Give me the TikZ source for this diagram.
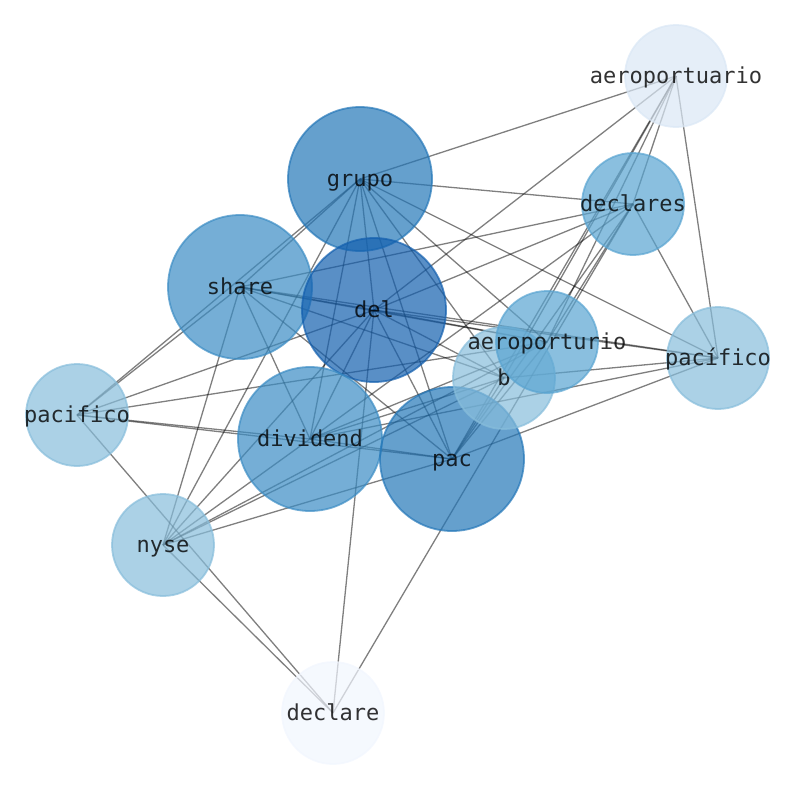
\documentclass[tikz,border=0pt]{standalone}
\usepackage{fontspec}
\newfontfamily\wordfont{DejaVu Sans Mono}
\pgfdeclarelayer{background}
\pgfsetlayers{background,main}
\definecolor{blueA}{HTML}{135FAE}
\definecolor{blueB}{HTML}{2477B8}
\definecolor{blueC}{HTML}{3B8CC4}
\definecolor{blueD}{HTML}{59A4D1}
\definecolor{blueE}{HTML}{87BDDB}
\definecolor{blueF}{HTML}{DAE7F5}
\definecolor{blueG}{HTML}{F1F6FE}
\newcommand{\word}[1]{\makebox[0pt]{#1}}

\begin{document}
\begin{tikzpicture}[x=1pt,y=-1pt,
    every node/.style={circle,inner sep=0pt,line width=1.8pt,fill opacity=0.7,draw opacity=0.7,
      text opacity=0.8,text=black,text height=16pt,text depth=1pt,
      font=\wordfont\fontsize{22pt}{26pt}\selectfont},
    big/.style={minimum size=144pt},
    small/.style={minimum size=102pt},
    link/.style={draw=black,draw opacity=0.5,line width=1.3pt}]
    \useasboundingbox (0,0) rectangle (794,790);

    \node[small,fill=blueF,draw=blueF] (aeroportuario) at (676,76) {\word{aeroportuario}};
    \node[big,fill=blueB,draw=blueB] (grupo) at (360,179) {\word{grupo}};
    \node[small,fill=blueD,draw=blueD] (declares) at (633,204) {\word{declares}};
    \node[big,fill=blueC,draw=blueC] (share) at (240,287) {\word{share}};
    \node[big,fill=blueA,draw=blueA] (del) at (374,310) {\word{del}};
    \node[small,fill=blueE,draw=blueE] (pacifico2) at (718,358) {\word{pacífico}};
    \node[big,fill=blueC,draw=blueC] (dividend) at (310,439) {\word{dividend}};
    \node[big,fill=blueB,draw=blueB] (pac) at (452,459) {\word{pac}};
    \node[small,fill=blueE,draw=blueE] (b) at (504,378) {\word{b}};
    \node[small,fill=blueD,draw=blueD] (aeroporturio) at (547,342) {\word{aeroporturio}};
    \node[small,fill=blueE,draw=blueE] (pacifico) at (77,415) {\word{pacifico}};
    \node[small,fill=blueE,draw=blueE] (nyse) at (163,545) {\word{nyse}};
    \node[small,fill=blueG,draw=blueG] (declare) at (333,713) {\word{declare}};

    \begin{pgfonlayer}{background}
    \path (aeroportuario.center) edge[link] (grupo.center);
    \path (aeroportuario.center) edge[link] (del.center);
    \path (aeroportuario.center) edge[link] (declares.center);
    \path (aeroportuario.center) edge[link] (pacifico2.center);
    \path (aeroportuario.center) edge[link] (pac.center);
    \path (aeroportuario.center) edge[link] (b.center);
    \path (aeroportuario.center) edge[link] (aeroporturio.center);

    \path (declares.center) edge[link] (grupo.center);
    \path (declares.center) edge[link] (share.center);
    \path (declares.center) edge[link] (del.center);
    \path (declares.center) edge[link] (dividend.center);
    \path (declares.center) edge[link] (pac.center);
    \path (declares.center) edge[link] (pacifico2.center);
    \path (declares.center) edge[link] (declare.center);
    \path (declares.center) edge[link] (aeroporturio.center);

    \path (grupo.center) edge[link] (pacifico2.center);
    \path (grupo.center) edge[link] (aeroporturio.center);
    \path (grupo.center) edge[link] (b.center);
    \path (grupo.center) edge[link] (pac.center);
    \path (grupo.center) edge[link] (del.center);
    \path (grupo.center) edge[link] (dividend.center);
    \path (grupo.center) edge[link] (nyse.center);
    \path (grupo.center) edge[link] (share.center);
    \path (grupo.center) edge[link] (pacifico.center);

    \path (share.center) edge[link] (pacifico.center);
    \path (share.center) edge[link] (nyse.center);
    \path (share.center) edge[link] (dividend.center);
    \path (share.center) edge[link] (pac.center);
    \path (share.center) edge[link] (b.center);
    \path (share.center) edge[link] (aeroporturio.center);
    \path (share.center) edge[link] (pacifico2.center);
    \path (share.center) edge[link] (del.center);

    \path (del.center) edge[link] (dividend.center);
    \path (del.center) edge[link] (pac.center);
    \path (del.center) edge[link] (declare.center);
    \path (del.center) edge[link] (nyse.center);
    \path (del.center) edge[link] (pacifico.center);
    \path (del.center) edge[link] (pacifico2.center);
    \path (del.center) edge[link] (b.center);
    \path (del.center) edge[link] (aeroporturio.center);

    \path (pacifico2.center) edge[link] (dividend.center);
    \path (pacifico2.center) edge[link] (pac.center);
    \path (pacifico2.center) edge[link] (b.center);

    \path (pacifico.center) edge[link] (aeroporturio.center);
    \path (pacifico.center) edge[link] (dividend.center);
    \path (pacifico.center) edge[link] (pac.center);
    \path (pacifico.center) edge[link] (declare.center);

    \path (nyse.center) edge[link] (dividend.center);
    \path (nyse.center) edge[link] (b.center);
    \path (nyse.center) edge[link] (aeroporturio.center);
    \path (nyse.center) edge[link] (pac.center);
    \path (nyse.center) edge[link] (declare.center);

    \path (dividend.center) edge[link] (aeroporturio.center);
    \path (dividend.center) edge[link] (b.center);
    \path (dividend.center) edge[link] (pac.center);

    \path (pac.center) edge[link] (b.center);
    \path (pac.center) edge[link] (aeroporturio.center);
    \end{pgfonlayer}
\end{tikzpicture}
\end{document}
